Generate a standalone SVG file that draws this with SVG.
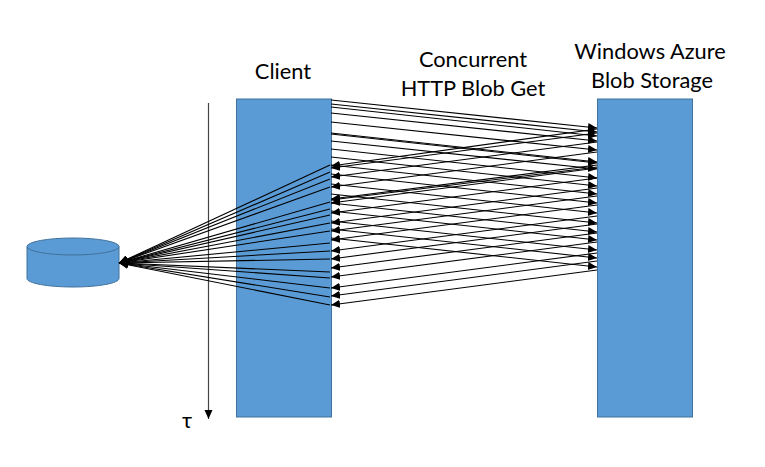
<svg xmlns="http://www.w3.org/2000/svg" width="765" height="467" viewBox="0 0 765 467">
<style>
.box{fill:#5B9BD5;stroke:#41719C;stroke-width:1}
text{font-family:Lato,"Liberation Sans",sans-serif;font-size:21.8px;fill:#000;text-anchor:middle}
#connectors line{stroke:#000;stroke-width:1.1;marker-end:url(#a)}
#connectors line.t{stroke:#444;stroke-width:1.2;marker-end:url(#b)}
</style>
<defs>
<marker id="a" markerUnits="userSpaceOnUse" markerWidth="10" markerHeight="10" refX="9" refY="4" orient="auto"><path d="M0 0L9 4L0 8z" fill="#000"/></marker>
<marker id="b" markerUnits="userSpaceOnUse" markerWidth="10" markerHeight="10" refX="9" refY="4" orient="auto"><path d="M0 0L9 4L0 8z" fill="#000"/></marker>
</defs>
<rect width="765" height="467" fill="#fff"/>
<g id="client"><rect class="box" x="236.500" y="99" width="95" height="318"/><text x="283" y="79">Client</text></g>
<g id="storage"><rect class="box" x="597.500" y="99" width="95" height="318"/><text x="650" y="59">Windows Azure</text><text x="652" y="88">Blob Storage</text></g>
<g id="disk"><path class="box" d="M27 246.500V278.500C27 283.200 47.600 287 73 287S119 283.200 119 278.500V246.500"/><ellipse class="box" cx="73" cy="246.500" rx="46" ry="8.500"/></g>
<g id="label"><text x="473" y="67">Concurrent</text><text x="473" y="96">HTTP Blob Get</text></g>
<g id="tau"><text x="187" y="428">τ</text></g>
<g id="connectors">
<line class="t" x1="208.500" y1="103" x2="208.500" y2="419"/>
<line x1="331" y1="100" x2="597" y2="128"/><line x1="331" y1="104" x2="597" y2="132"/><line x1="331" y1="107" x2="597" y2="136"/><line x1="331" y1="113" x2="597" y2="141"/><line x1="331" y1="122" x2="597" y2="150"/><line x1="331" y1="133" x2="597" y2="162"/><line x1="331" y1="134" x2="597" y2="163"/><line x1="331" y1="141" x2="597" y2="169"/><line x1="331" y1="149" x2="597" y2="178"/><line x1="331" y1="157" x2="597" y2="186"/><line x1="331" y1="165" x2="597" y2="194"/><line x1="331" y1="174" x2="597" y2="203"/><line x1="331" y1="184" x2="597" y2="213"/><line x1="331" y1="194" x2="597" y2="223"/><line x1="331" y1="203" x2="597" y2="232"/><line x1="331" y1="211" x2="597" y2="240"/><line x1="331" y1="221" x2="597" y2="250"/><line x1="331" y1="229" x2="597" y2="258"/><line x1="331" y1="238" x2="597" y2="267"/>
<line x1="597" y1="129" x2="331" y2="166"/><line x1="597" y1="133" x2="331" y2="168"/><line x1="597" y1="142" x2="331" y2="177"/><line x1="597" y1="152" x2="331" y2="187"/><line x1="597" y1="165" x2="331" y2="199"/><line x1="597" y1="167" x2="331" y2="200"/><line x1="597" y1="168" x2="331" y2="203"/><line x1="597" y1="178" x2="331" y2="213"/><line x1="597" y1="188" x2="331" y2="223"/><line x1="597" y1="196" x2="331" y2="231"/><line x1="597" y1="205" x2="331" y2="240"/><line x1="597" y1="216" x2="331" y2="251"/><line x1="597" y1="224" x2="331" y2="259"/><line x1="597" y1="233" x2="331" y2="268"/><line x1="597" y1="242" x2="331" y2="277"/><line x1="597" y1="253" x2="331" y2="288"/><line x1="597" y1="261" x2="331" y2="296"/><line x1="597" y1="270" x2="331" y2="305"/>
<line x1="330" y1="165" x2="119" y2="263"/><line x1="330" y1="172" x2="119" y2="263"/><line x1="330" y1="179" x2="119" y2="263"/><line x1="330" y1="187" x2="119" y2="263"/><line x1="330" y1="202" x2="119" y2="263"/><line x1="330" y1="209" x2="119" y2="263"/><line x1="330" y1="215" x2="119" y2="263"/><line x1="330" y1="223" x2="119" y2="263"/><line x1="330" y1="231" x2="119" y2="263"/><line x1="330" y1="243" x2="119" y2="263"/><line x1="330" y1="251" x2="119" y2="263"/><line x1="330" y1="259" x2="119" y2="263"/><line x1="330" y1="272" x2="119" y2="263"/><line x1="330" y1="278" x2="119" y2="263"/><line x1="330" y1="288" x2="119" y2="263"/><line x1="330" y1="297" x2="119" y2="263"/><line x1="330" y1="305" x2="119" y2="263"/>
</g>
</svg>
